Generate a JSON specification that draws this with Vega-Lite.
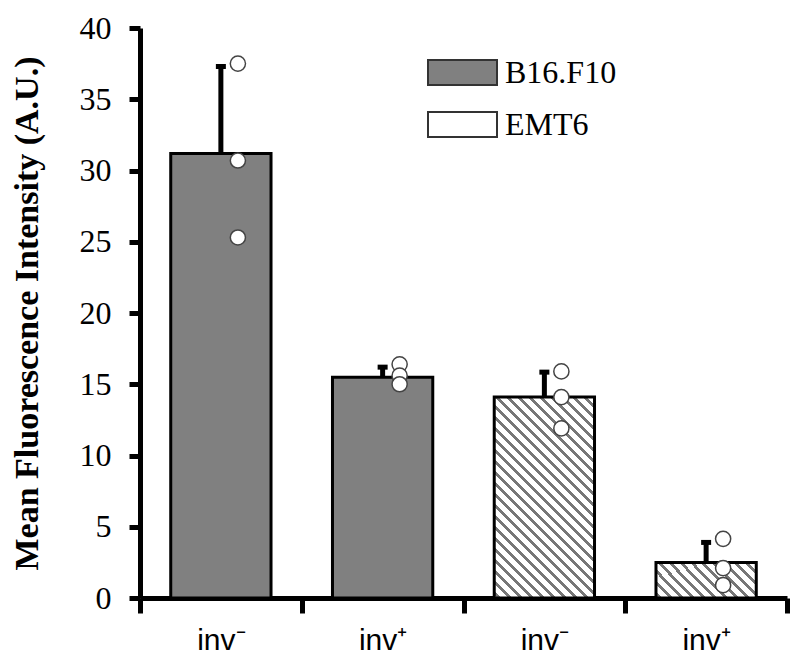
{
  "$schema": "https://vega.github.io/schema/vega-lite/v6.json",
  "width": 647,
  "height": 570,
  "autosize": "none",
  "padding": {"left": 140, "top": 28, "right": 13, "bottom": 68},
  "background": "white",
  "config": {"view": {"stroke": null}},
  "datasets": {
    "bars": [
      {"group": "B16.F10 inv-", "line": "B16.F10", "mean": 31.2, "upper": 37.3},
      {"group": "B16.F10 inv+", "line": "B16.F10", "mean": 15.5, "upper": 16.2},
      {"group": "EMT6 inv-", "line": "EMT6", "mean": 14.1, "upper": 15.85},
      {"group": "EMT6 inv+", "line": "EMT6", "mean": 2.5, "upper": 3.9}
    ],
    "points": [
      {"group": "B16.F10 inv-", "value": 37.5},
      {"group": "B16.F10 inv-", "value": 30.7},
      {"group": "B16.F10 inv-", "value": 25.3},
      {"group": "B16.F10 inv+", "value": 16.4},
      {"group": "B16.F10 inv+", "value": 15.6},
      {"group": "B16.F10 inv+", "value": 15.0},
      {"group": "EMT6 inv-", "value": 15.9},
      {"group": "EMT6 inv-", "value": 14.1},
      {"group": "EMT6 inv-", "value": 11.9},
      {"group": "EMT6 inv+", "value": 4.15},
      {"group": "EMT6 inv+", "value": 2.1},
      {"group": "EMT6 inv+", "value": 0.9}
    ]
  },
  "layer": [
    {
      "data": {"name": "bars"},
      "mark": {"type": "bar", "stroke": "black", "strokeWidth": 3, "width": {"band": 0.62}},
      "encoding": {
        "x": {
          "field": "group", "type": "nominal", "sort": null,
          "scale": {"domain": ["B16.F10 inv-", "B16.F10 inv+", "EMT6 inv-", "EMT6 inv+"], "paddingInner": 0, "paddingOuter": 0},
          "axis": {
            "title": null,
            "tickBand": "extent",
            "labelExpr": "isString(datum.value) ? (indexof(datum.value, 'inv-') >= 0 ? 'inv⁻' : 'inv⁺') : ''",
            "labelAngle": 0,
            "labelFont": "Liberation Sans",
            "labelFontSize": 30,
            "labelColor": "black",
            "labelPadding": 12,
            "domainColor": "black",
            "domainWidth": 5,
            "tickColor": "black",
            "tickWidth": 5,
            "tickSize": 15
          }
        },
        "y": {
          "field": "mean", "type": "quantitative",
          "scale": {"domain": [0, 40], "nice": false},
          "axis": {
            "title": "Mean Fluorescence Intensity (A.U.)",
            "titleFont": "Liberation Serif",
            "titleFontWeight": "bold",
            "titleFontSize": 34,
            "titleLimit": 1000,
            "titleColor": "black",
            "titlePadding": 35,
            "values": [0, 5, 10, 15, 20, 25, 30, 35, 40],
            "grid": false,
            "labelFont": "Liberation Serif",
            "labelFontSize": 32,
            "labelColor": "black",
            "labelPadding": 18,
            "domainColor": "black",
            "domainWidth": 5,
            "tickColor": "black",
            "tickWidth": 5,
            "tickSize": 11
          }
        },
        "fill": {
          "field": "line", "type": "nominal",
          "scale": {"domain": ["B16.F10", "EMT6"], "range": ["#808080", "#ffffff"]},
          "legend": {
            "title": null,
            "orient": "none",
            "legendX": 287,
            "legendY": 9,
            "symbolType": "M-1,-0.36H1V0.36H-1Z",
            "symbolSize": 4761,
            "symbolStrokeColor": "#333333",
            "symbolStrokeWidth": 2,
            "symbolOpacity": 1,
            "labelFont": "Liberation Serif",
            "labelFontSize": 32,
            "labelColor": "black",
            "labelOffset": 7,
            "rowPadding": -12
          },
          "condition": [
            {"test": "datum.group === 'EMT6 inv-'", "value": {"gradient": "linear", "x1": 0, "y1": 1, "x2": 0.5992, "y2": -0.2002, "stops": [
              {"offset": 0, "color": "#ffffff"},
              {"offset": 0.00996, "color": "#ffffff"}, {"offset": 0.00996, "color": "#777777"}, {"offset": 0.02324, "color": "#777777"}, {"offset": 0.02324, "color": "#ffffff"},
              {"offset": 0.04648, "color": "#ffffff"}, {"offset": 0.04648, "color": "#777777"}, {"offset": 0.05976, "color": "#777777"}, {"offset": 0.05976, "color": "#ffffff"},
              {"offset": 0.083, "color": "#ffffff"}, {"offset": 0.083, "color": "#777777"}, {"offset": 0.09628, "color": "#777777"}, {"offset": 0.09628, "color": "#ffffff"},
              {"offset": 0.11952, "color": "#ffffff"}, {"offset": 0.11952, "color": "#777777"}, {"offset": 0.1328, "color": "#777777"}, {"offset": 0.1328, "color": "#ffffff"},
              {"offset": 0.15604, "color": "#ffffff"}, {"offset": 0.15604, "color": "#777777"}, {"offset": 0.16933, "color": "#777777"}, {"offset": 0.16933, "color": "#ffffff"},
              {"offset": 0.19257, "color": "#ffffff"}, {"offset": 0.19257, "color": "#777777"}, {"offset": 0.20585, "color": "#777777"}, {"offset": 0.20585, "color": "#ffffff"},
              {"offset": 0.22909, "color": "#ffffff"}, {"offset": 0.22909, "color": "#777777"}, {"offset": 0.24237, "color": "#777777"}, {"offset": 0.24237, "color": "#ffffff"},
              {"offset": 0.26561, "color": "#ffffff"}, {"offset": 0.26561, "color": "#777777"}, {"offset": 0.27889, "color": "#777777"}, {"offset": 0.27889, "color": "#ffffff"},
              {"offset": 0.30213, "color": "#ffffff"}, {"offset": 0.30213, "color": "#777777"}, {"offset": 0.31541, "color": "#777777"}, {"offset": 0.31541, "color": "#ffffff"},
              {"offset": 0.33865, "color": "#ffffff"}, {"offset": 0.33865, "color": "#777777"}, {"offset": 0.35193, "color": "#777777"}, {"offset": 0.35193, "color": "#ffffff"},
              {"offset": 0.37517, "color": "#ffffff"}, {"offset": 0.37517, "color": "#777777"}, {"offset": 0.38845, "color": "#777777"}, {"offset": 0.38845, "color": "#ffffff"},
              {"offset": 0.41169, "color": "#ffffff"}, {"offset": 0.41169, "color": "#777777"}, {"offset": 0.42497, "color": "#777777"}, {"offset": 0.42497, "color": "#ffffff"},
              {"offset": 0.44821, "color": "#ffffff"}, {"offset": 0.44821, "color": "#777777"}, {"offset": 0.46149, "color": "#777777"}, {"offset": 0.46149, "color": "#ffffff"},
              {"offset": 0.48473, "color": "#ffffff"}, {"offset": 0.48473, "color": "#777777"}, {"offset": 0.49802, "color": "#777777"}, {"offset": 0.49802, "color": "#ffffff"},
              {"offset": 0.52126, "color": "#ffffff"}, {"offset": 0.52126, "color": "#777777"}, {"offset": 0.53454, "color": "#777777"}, {"offset": 0.53454, "color": "#ffffff"},
              {"offset": 0.55778, "color": "#ffffff"}, {"offset": 0.55778, "color": "#777777"}, {"offset": 0.57106, "color": "#777777"}, {"offset": 0.57106, "color": "#ffffff"},
              {"offset": 0.5943, "color": "#ffffff"}, {"offset": 0.5943, "color": "#777777"}, {"offset": 0.60758, "color": "#777777"}, {"offset": 0.60758, "color": "#ffffff"},
              {"offset": 0.63082, "color": "#ffffff"}, {"offset": 0.63082, "color": "#777777"}, {"offset": 0.6441, "color": "#777777"}, {"offset": 0.6441, "color": "#ffffff"},
              {"offset": 0.66734, "color": "#ffffff"}, {"offset": 0.66734, "color": "#777777"}, {"offset": 0.68062, "color": "#777777"}, {"offset": 0.68062, "color": "#ffffff"},
              {"offset": 0.70386, "color": "#ffffff"}, {"offset": 0.70386, "color": "#777777"}, {"offset": 0.71714, "color": "#777777"}, {"offset": 0.71714, "color": "#ffffff"},
              {"offset": 0.74038, "color": "#ffffff"}, {"offset": 0.74038, "color": "#777777"}, {"offset": 0.75366, "color": "#777777"}, {"offset": 0.75366, "color": "#ffffff"},
              {"offset": 0.7769, "color": "#ffffff"}, {"offset": 0.7769, "color": "#777777"}, {"offset": 0.79018, "color": "#777777"}, {"offset": 0.79018, "color": "#ffffff"},
              {"offset": 0.81342, "color": "#ffffff"}, {"offset": 0.81342, "color": "#777777"}, {"offset": 0.8267, "color": "#777777"}, {"offset": 0.8267, "color": "#ffffff"},
              {"offset": 0.84995, "color": "#ffffff"}, {"offset": 0.84995, "color": "#777777"}, {"offset": 0.86323, "color": "#777777"}, {"offset": 0.86323, "color": "#ffffff"},
              {"offset": 0.88647, "color": "#ffffff"}, {"offset": 0.88647, "color": "#777777"}, {"offset": 0.89975, "color": "#777777"}, {"offset": 0.89975, "color": "#ffffff"},
              {"offset": 0.92299, "color": "#ffffff"}, {"offset": 0.92299, "color": "#777777"}, {"offset": 0.93627, "color": "#777777"}, {"offset": 0.93627, "color": "#ffffff"},
              {"offset": 0.95951, "color": "#ffffff"}, {"offset": 0.95951, "color": "#777777"}, {"offset": 0.97279, "color": "#777777"}, {"offset": 0.97279, "color": "#ffffff"},
              {"offset": 1, "color": "#ffffff"}
            ]}},
            {"test": "datum.group === 'EMT6 inv+'", "value": {"gradient": "linear", "x1": 0, "y1": 1, "x2": 1.2033, "y2": 0.573, "stops": [
              {"offset": 0, "color": "#ffffff"},
              {"offset": 0.02208, "color": "#ffffff"}, {"offset": 0.02208, "color": "#777777"}, {"offset": 0.05151, "color": "#777777"}, {"offset": 0.05151, "color": "#ffffff"},
              {"offset": 0.10302, "color": "#ffffff"}, {"offset": 0.10302, "color": "#777777"}, {"offset": 0.13245, "color": "#777777"}, {"offset": 0.13245, "color": "#ffffff"},
              {"offset": 0.18396, "color": "#ffffff"}, {"offset": 0.18396, "color": "#777777"}, {"offset": 0.21339, "color": "#777777"}, {"offset": 0.21339, "color": "#ffffff"},
              {"offset": 0.2649, "color": "#ffffff"}, {"offset": 0.2649, "color": "#777777"}, {"offset": 0.29434, "color": "#777777"}, {"offset": 0.29434, "color": "#ffffff"},
              {"offset": 0.34584, "color": "#ffffff"}, {"offset": 0.34584, "color": "#777777"}, {"offset": 0.37528, "color": "#777777"}, {"offset": 0.37528, "color": "#ffffff"},
              {"offset": 0.42679, "color": "#ffffff"}, {"offset": 0.42679, "color": "#777777"}, {"offset": 0.45622, "color": "#777777"}, {"offset": 0.45622, "color": "#ffffff"},
              {"offset": 0.50773, "color": "#ffffff"}, {"offset": 0.50773, "color": "#777777"}, {"offset": 0.53716, "color": "#777777"}, {"offset": 0.53716, "color": "#ffffff"},
              {"offset": 0.58867, "color": "#ffffff"}, {"offset": 0.58867, "color": "#777777"}, {"offset": 0.61811, "color": "#777777"}, {"offset": 0.61811, "color": "#ffffff"},
              {"offset": 0.66961, "color": "#ffffff"}, {"offset": 0.66961, "color": "#777777"}, {"offset": 0.69905, "color": "#777777"}, {"offset": 0.69905, "color": "#ffffff"},
              {"offset": 0.75056, "color": "#ffffff"}, {"offset": 0.75056, "color": "#777777"}, {"offset": 0.77999, "color": "#777777"}, {"offset": 0.77999, "color": "#ffffff"},
              {"offset": 0.8315, "color": "#ffffff"}, {"offset": 0.8315, "color": "#777777"}, {"offset": 0.86093, "color": "#777777"}, {"offset": 0.86093, "color": "#ffffff"},
              {"offset": 0.91244, "color": "#ffffff"}, {"offset": 0.91244, "color": "#777777"}, {"offset": 0.94188, "color": "#777777"}, {"offset": 0.94188, "color": "#ffffff"},
              {"offset": 1, "color": "#ffffff"}
            ]}}
          ]
        }
      }
    },
    {
      "data": {"name": "bars"},
      "mark": {"type": "rule", "color": "black", "strokeWidth": 5},
      "encoding": {
        "x": {"field": "group", "type": "nominal", "sort": null},
        "y": {"field": "mean", "type": "quantitative"},
        "y2": {"field": "upper"}
      }
    },
    {
      "data": {"name": "bars"},
      "mark": {"type": "tick", "color": "black", "size": 10, "thickness": 5, "opacity": 1},
      "encoding": {
        "x": {"field": "group", "type": "nominal", "sort": null},
        "y": {"field": "upper", "type": "quantitative"}
      }
    },
    {
      "data": {"name": "points"},
      "mark": {"type": "point", "shape": "circle", "filled": true, "fill": "white", "stroke": "#444444", "strokeWidth": 1.5, "size": 230, "opacity": 1, "xOffset": 17},
      "encoding": {
        "x": {"field": "group", "type": "nominal", "sort": null},
        "y": {"field": "value", "type": "quantitative"}
      }
    }
  ]
}
